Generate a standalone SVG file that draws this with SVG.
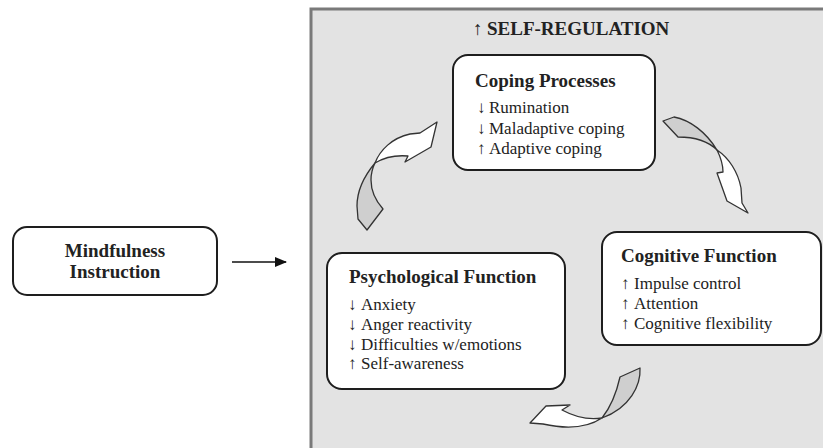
<svg xmlns="http://www.w3.org/2000/svg" width="823" height="448" viewBox="0 0 823 448">
<style>
.box{fill:#fff;stroke:#1e1e1e;stroke-width:2}
.t{font-family:"Liberation Serif","Times New Roman",serif;fill:#222}
.b{font-weight:bold;font-size:19px}
.r{font-size:17px}
.front{fill:#fff;stroke:#333;stroke-width:1.3;stroke-linejoin:round}
.back{fill:#cfcfcf;stroke:#333;stroke-width:1.3;stroke-linejoin:round}
</style>
<defs>
<marker id="ah" markerWidth="12" markerHeight="10" refX="11" refY="5" orient="auto" markerUnits="userSpaceOnUse">
<path d="M0,0 L12,5 L0,10 Z" fill="#111"/>
</marker>
</defs>
<rect width="823" height="448" fill="#fff"/>
<g id="panel">
<rect x="311" y="9" width="540" height="460" fill="#e3e3e3" stroke="#7a7a7a" stroke-width="3"/>
<text class="t b" x="473" y="35">↑ <tspan x="487">SELF-REGULATION</tspan></text>
</g>
<g id="mindfulness">
<rect class="box" x="13" y="227" width="204" height="68" rx="14"/>
<text class="t b" x="115" y="257" text-anchor="middle">Mindfulness</text>
<text class="t b" x="115" y="278" text-anchor="middle">Instruction</text>
</g>
<g id="coping">
<rect class="box" x="453" y="55" width="202" height="115" rx="15"/>
<text class="t b" x="475" y="87">Coping Processes</text>
<text class="t r" y="113"><tspan x="477">↓</tspan><tspan x="489">Rumination</tspan></text>
<text class="t r" y="134"><tspan x="477">↓</tspan><tspan x="489">Maladaptive coping</tspan></text>
<text class="t r" y="154"><tspan x="477">↑</tspan><tspan x="489">Adaptive coping</tspan></text>
</g>
<g id="cognitive">
<rect class="box" x="602" y="232" width="219" height="113" rx="15"/>
<text class="t b" x="621" y="262">Cognitive Function</text>
<text class="t r" y="289"><tspan x="621">↑</tspan><tspan x="634">Impulse control</tspan></text>
<text class="t r" y="309"><tspan x="621">↑</tspan><tspan x="634">Attention</tspan></text>
<text class="t r" y="329"><tspan x="621">↑</tspan><tspan x="634">Cognitive flexibility</tspan></text>
</g>
<g id="psychological">
<rect class="box" x="327" y="253" width="238" height="136" rx="15"/>
<text class="t b" x="349" y="283">Psychological Function</text>
<text class="t r" y="310"><tspan x="348">↓</tspan><tspan x="361">Anxiety</tspan></text>
<text class="t r" y="330"><tspan x="348">↓</tspan><tspan x="361">Anger reactivity</tspan></text>
<text class="t r" y="350"><tspan x="348">↓</tspan><tspan x="361">Difficulties w/emotions</tspan></text>
<text class="t r" y="369"><tspan x="348">↑</tspan><tspan x="361">Self-awareness</tspan></text>
</g>
<g id="connectors">
<line x1="232" y1="262" x2="286" y2="262" stroke="#111" stroke-width="1.6" marker-end="url(#ah)"/>
<path class="back" d="M375,163 C365,175 357,190 357,206 L358,219 L367,230 L383,209 C375,200 371,190 371,180 C371,172 373,167 375,163 Z"/>
<path class="front" d="M375,163 C380,150 392,138 410,134 L420,133 L437,122 L431,147 L405,162 L408,156 C397,155 385,157 375,163 Z"/>
<path class="back" d="M663,121 L674,117 C690,120 706,132 717,150 C708,141 695,137 678,137 Z"/>
<path class="front" d="M717,150 C729,158 738,172 741,188 L742,203 L748,213 L727,201 L717,173 L723,172 C723,163 720,156 717,150 Z"/>
<path class="back" d="M620,377 L640,368 C641,385 630,408 602,418 C610,408 616,395 620,377 Z"/>
<path class="front" d="M602,418 C590,426 570,430 543,424 L530,423 L546,406 L570,405 L562,410 C575,417 590,420 602,418 Z"/>
</g>
</svg>
